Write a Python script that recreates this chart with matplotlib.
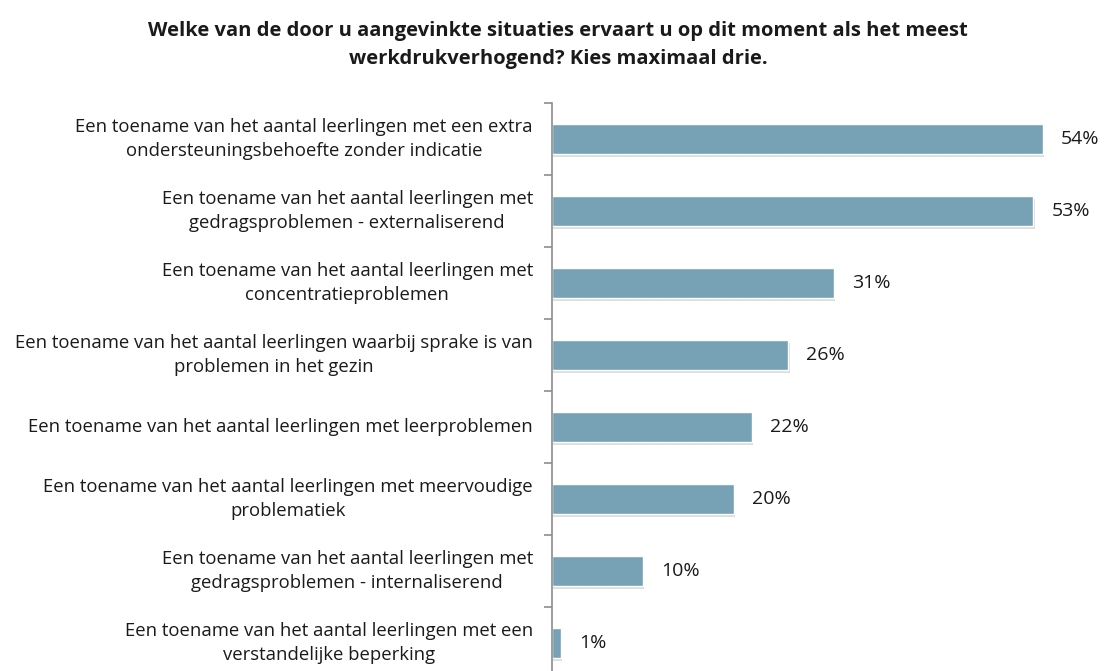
import matplotlib
matplotlib.use('Agg')
from matplotlib import pyplot as plt
import matplotlib.patheffects as pe

categories = [
    'Een toename van het aantal leerlingen met een extra\nondersteuningsbehoefte zonder indicatie',
    'Een toename van het aantal leerlingen met\ngedragsproblemen - externaliserend',
    'Een toename van het aantal leerlingen met\nconcentratieproblemen',
    'Een toename van het aantal leerlingen waarbij sprake is van\nproblemen in het gezin',
    'Een toename van het aantal leerlingen met leerproblemen',
    'Een toename van het aantal leerlingen met meervoudige\nproblematiek',
    'Een toename van het aantal leerlingen met\ngedragsproblemen - internaliserend',
    'Een toename van het aantal leerlingen met een\nverstandelijke beperking',
]
values = [54, 53, 31, 26, 22, 20, 10, 1]
title = ('Welke van de door u aangevinkte situaties ervaart u op dit moment als het meest\n'
         'werkdrukverhogend? Kies maximaal drie.')

plt.rcParams['font.family'] = ['Open Sans', 'DejaVu Sans']

W, H = 1104, 671
fig = plt.figure(figsize=(W / 100, H / 100), dpi=100)
# axes spans y 103..679 px (bottom slightly outside figure), x from 552
left, right = 552, 1097
top, bottom = 103, 679
ax = fig.add_axes([left / W, (H - bottom) / H, (right - left) / W, (bottom - top) / H])

n = len(values)
ypos = list(range(n))
bar_h = 0.42

bars = ax.barh(ypos, values, height=bar_h, color='#77A1B5', edgecolor='white',
               linewidth=1.0, zorder=2)
for b in bars:
    b.set_path_effects([pe.SimplePatchShadow(offset=(1, -2), alpha=0.16), pe.Normal()])

for y, v in zip(ypos, values):
    ax.text(v + 2.0, y, f'{v}%', va='center', ha='left', fontsize=14, color='#1a1a1a')

ax.set_xlim(0, 60)
ax.set_ylim(n - 0.5, -0.5)
ax.set_yticks([i - 0.5 for i in range(n + 1)])
ax.set_yticklabels([])
ax.tick_params(axis='y', length=6, width=1.2, color='#8c8c8c', direction='out')
ax.set_xticks([])
for s in ['top', 'right', 'bottom']:
    ax.spines[s].set_visible(False)
ax.spines['left'].set_color('#8c8c8c')
ax.spines['left'].set_linewidth(1.2)

for y, c in zip(ypos, categories):
    ax.text(-0.035, y, c, transform=ax.get_yaxis_transform(), ha='right', va='center',
            multialignment='center', fontsize=13.3, color='#1a1a1a', linespacing=1.45)

fig.text(558 / W, 1 - 45 / H, title, ha='center', va='center', fontsize=14.5,
         fontweight='bold', color='#1a1a1a', linespacing=1.5)

fig.savefig('out.png', dpi=100)
